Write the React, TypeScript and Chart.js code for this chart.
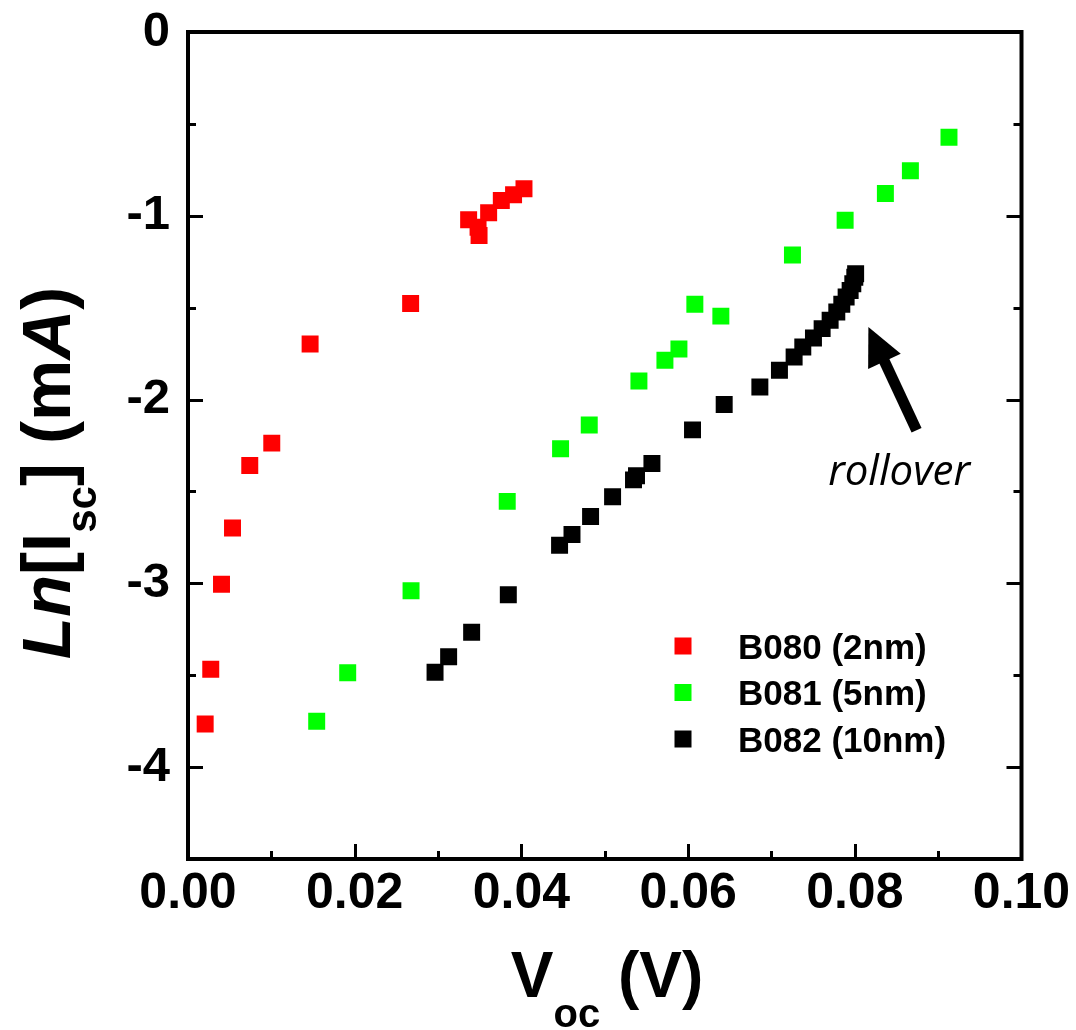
import React, { useEffect, useRef } from 'react';
import { Chart, registerables } from 'chart.js';

Chart.register(...registerables);

// ---- data ----
const seriesLabels = ['B080 (2nm)', 'B081 (5nm)', 'B082 (10nm)'];
const seriesColors = ['#ff0000', '#00ff00', '#000000'];

const b080Voc = [0.00206, 0.00273, 0.00402, 0.00534, 0.00741, 0.01005, 0.01465, 0.02671, 0.03367, 0.03492, 0.0348, 0.03607, 0.03759, 0.03906, 0.04031];
const b080LnIsc = [-3.766, -3.467, -3.005, -2.699, -2.359, -2.237, -1.698, -1.477, -1.022, -1.107, -1.062, -0.984, -0.917, -0.886, -0.853];

const b081Voc = [0.01544, 0.01916, 0.02676, 0.0383, 0.0447, 0.04814, 0.0541, 0.05722, 0.0589, 0.06081, 0.06393, 0.07252, 0.07884, 0.08367, 0.08667, 0.0913];
const b081LnIsc = [-3.75, -3.487, -3.04, -2.554, -2.268, -2.138, -1.899, -1.786, -1.725, -1.482, -1.546, -1.214, -1.024, -0.879, -0.755, -0.573];

const b082Voc = [0.02964, 0.03127, 0.03403, 0.03843, 0.04458, 0.04607, 0.0483, 0.05094, 0.05345, 0.05381, 0.05566, 0.06053, 0.06433, 0.06861, 0.07096, 0.07272, 0.07376, 0.07504, 0.07608, 0.07704, 0.07784, 0.07844, 0.07896, 0.07944, 0.07976, 0.08, 0.0801];
const b082LnIsc = [-3.484, -3.4, -3.266, -3.062, -2.793, -2.734, -2.636, -2.529, -2.437, -2.415, -2.348, -2.165, -2.027, -1.932, -1.841, -1.768, -1.714, -1.665, -1.614, -1.568, -1.524, -1.482, -1.442, -1.406, -1.37, -1.334, -1.315];

const xMin = 0, xMax = 0.1, xStep = 0.01;
const yMin = -4.5, yMax = 0, yStep = 0.5;

const annotationText = 'rollover';
const annotationPos = { x: 0.0768, y: -2.466 };
const arrowTail = { x: 0.08741, y: -2.167 };
const arrowTip = { x: 0.08163, y: -1.605 };

const FONT = '"Liberation Sans", Arial, sans-serif';

function pts(xs: number[], ys: number[]) {
  return xs.map((x, i) => ({ x, y: ys[i] }));
}

function drawSegs(ctx: CanvasRenderingContext2D, segs: { t: string; f: string; d: number }[], cx: number, cy: number, rot: number) {
  let total = 0;
  segs.forEach((s) => {
    ctx.font = s.f;
    total += ctx.measureText(s.t).width;
  });
  ctx.save();
  ctx.translate(cx, cy);
  ctx.rotate(rot);
  ctx.fillStyle = '#000';
  ctx.textAlign = 'left';
  ctx.textBaseline = 'alphabetic';
  let x = -total / 2;
  segs.forEach((s) => {
    ctx.font = s.f;
    ctx.fillText(s.t, x, s.d);
    x += ctx.measureText(s.t).width;
  });
  ctx.restore();
}

const decorPlugin = {
  id: 'decor',
  afterDraw(chart: any) {
    const { ctx, chartArea: ca, scales } = chart;
    const xs = scales.x, ys = scales.y;
    ctx.save();
    ctx.strokeStyle = '#000';
    ctx.lineCap = 'butt';
    // ticks
    ctx.lineWidth = 3;
    xs.ticks.forEach((t: any) => {
      const v = t.value;
      const k = Math.round(v * 100);
      if (k <= 0 || k >= 10) return;
      const px = Math.round(xs.getPixelForValue(v)) + 0.5;
      const len = k % 2 === 0 ? 15 : 8;
      ctx.beginPath();
      ctx.moveTo(px, ca.bottom);
      ctx.lineTo(px, ca.bottom - len);
      ctx.stroke();
    });
    ys.ticks.forEach((t: any) => {
      const v = t.value;
      const k = Math.round(v * 2);
      if (k <= -9 || k >= 0) return;
      const py = Math.round(ys.getPixelForValue(v)) + 0.5;
      const len = k % 2 === 0 ? 15 : 8;
      ctx.beginPath();
      ctx.moveTo(ca.left, py);
      ctx.lineTo(ca.left + len, py);
      ctx.moveTo(ca.right, py);
      ctx.lineTo(ca.right - len, py);
      ctx.stroke();
    });
    // frame
    ctx.lineWidth = 4;
    ctx.strokeRect(ca.left, ca.top, ca.right - ca.left, ca.bottom - ca.top);

    // legend
    const lx = 683, ly0 = 646, dy = 46.5;
    chart.data.datasets.forEach((ds: any, i: number) => {
      const cy = ly0 + i * dy;
      ctx.fillStyle = ds.backgroundColor;
      ctx.fillRect(lx - 8.5, cy - 8.5, 17, 17);
      ctx.fillStyle = '#000';
      ctx.font = `bold 35px ${FONT}`;
      ctx.textAlign = 'left';
      ctx.textBaseline = 'alphabetic';
      ctx.fillText(ds.label, 738, cy + 12.5);
    });

    // annotation text
    ctx.fillStyle = '#000';
    ctx.font = `italic 42px "Open Sans", ${FONT}`;
    ctx.textAlign = 'left';
    ctx.textBaseline = 'alphabetic';
    ctx.fillText(annotationText, xs.getPixelForValue(annotationPos.x), ys.getPixelForValue(annotationPos.y));

    // arrow
    const tx = xs.getPixelForValue(arrowTail.x), ty = ys.getPixelForValue(arrowTail.y);
    const hx = xs.getPixelForValue(arrowTip.x), hy = ys.getPixelForValue(arrowTip.y);
    const ang = Math.atan2(hy - ty, hx - tx);
    const headLen = 38, headHalf = 18;
    const bx = hx - headLen * Math.cos(ang), by = hy - headLen * Math.sin(ang);
    ctx.lineWidth = 11;
    ctx.beginPath();
    ctx.moveTo(tx, ty);
    ctx.lineTo(bx + 4 * Math.cos(ang), by + 4 * Math.sin(ang));
    ctx.stroke();
    ctx.beginPath();
    ctx.moveTo(hx, hy);
    ctx.lineTo(bx + headHalf * Math.sin(ang), by - headHalf * Math.cos(ang));
    ctx.lineTo(bx - headHalf * Math.sin(ang), by + headHalf * Math.cos(ang));
    ctx.closePath();
    ctx.fill();

    // y title
    const ySegs = [
      { t: 'L', f: `italic bold 69px ${FONT}`, d: 0 },
      { t: 'n', f: `italic bold 69px ${FONT}`, d: 0 },
      { t: '[I', f: `bold 69px ${FONT}`, d: 0 },
      { t: 'sc', f: `bold 42px ${FONT}`, d: 26 },
      { t: '] (m', f: `bold 69px ${FONT}`, d: 0 },
      { t: 'A', f: `italic bold 69px ${FONT}`, d: 0 },
      { t: ')', f: `bold 69px ${FONT}`, d: 0 },
    ];
    drawSegs(ctx, ySegs, 70, 473, -Math.PI / 2);

    // x title
    const xSegs = [
      { t: 'V', f: `bold 64px ${FONT}`, d: 0 },
      { t: 'oc', f: `bold 40px ${FONT}`, d: 30 },
      { t: ' (V)', f: `bold 64px ${FONT}`, d: 0 },
    ];
    drawSegs(ctx, xSegs, 607, 997, 0);
    ctx.restore();
  },
};

export default function App() {
  const ref = useRef<HTMLCanvasElement>(null);
  useEffect(() => {
    if (!ref.current) return;
    const xsData = [b080Voc, b081Voc, b082Voc];
    const ysData = [b080LnIsc, b081LnIsc, b082LnIsc];
    const chart = new Chart(ref.current, {
      type: 'scatter',
      data: {
        datasets: seriesLabels.map((label, i) => ({
          label,
          data: pts(xsData[i], ysData[i]),
          backgroundColor: seriesColors[i],
          borderColor: seriesColors[i],
          borderWidth: 0,
          pointStyle: 'rect',
          pointRadius: 12,
          pointHoverRadius: 12,
          showLine: false,
        })),
      },
      options: {
        responsive: false,
        animation: false,
        devicePixelRatio: 1,
        layout: { padding: { left: 0, right: 54.5, top: 32, bottom: 0 } },
        plugins: { legend: { display: false }, tooltip: { enabled: false } },
        scales: {
          x: {
            type: 'linear',
            min: xMin,
            max: xMax,
            grid: { display: false, drawTicks: false },
            border: { display: false },
            ticks: {
              stepSize: xStep,
              autoSkip: false,
              maxRotation: 0,
              padding: 5,
              color: '#000',
              font: { family: FONT, size: 50, weight: 'bold' },
              callback: (v: any) => {
                const k = Math.round(Number(v) * 100);
                return k % 2 === 0 ? (k / 100).toFixed(2) : '';
              },
            },
            afterFit: (s: any) => { s.height = 171; s.paddingLeft = 0; s.paddingRight = 0; },
          },
          y: {
            type: 'linear',
            min: yMin,
            max: yMax,
            grid: { display: false, drawTicks: false },
            border: { display: false },
            ticks: {
              stepSize: yStep,
              autoSkip: false,
              padding: 18,
              color: '#000',
              font: { family: FONT, size: 49, weight: 'bold' },
              callback: (v: any) => {
                const n = Number(v);
                return Math.abs(n - Math.round(n)) < 1e-9 ? String(Math.round(n)) : '';
              },
            },
            afterFit: (s: any) => { s.width = 188; s.paddingTop = 0; s.paddingBottom = 0; },
          },
        },
      },
      plugins: [decorPlugin],
    });
    return () => chart.destroy();
  }, []);
  return (
    <canvas
      ref={ref}
      width={1076}
      height={1030}
      style={{ position: 'fixed', left: 0, top: 0, width: 1076, height: 1030, background: '#fff' }}
    />
  );
}
